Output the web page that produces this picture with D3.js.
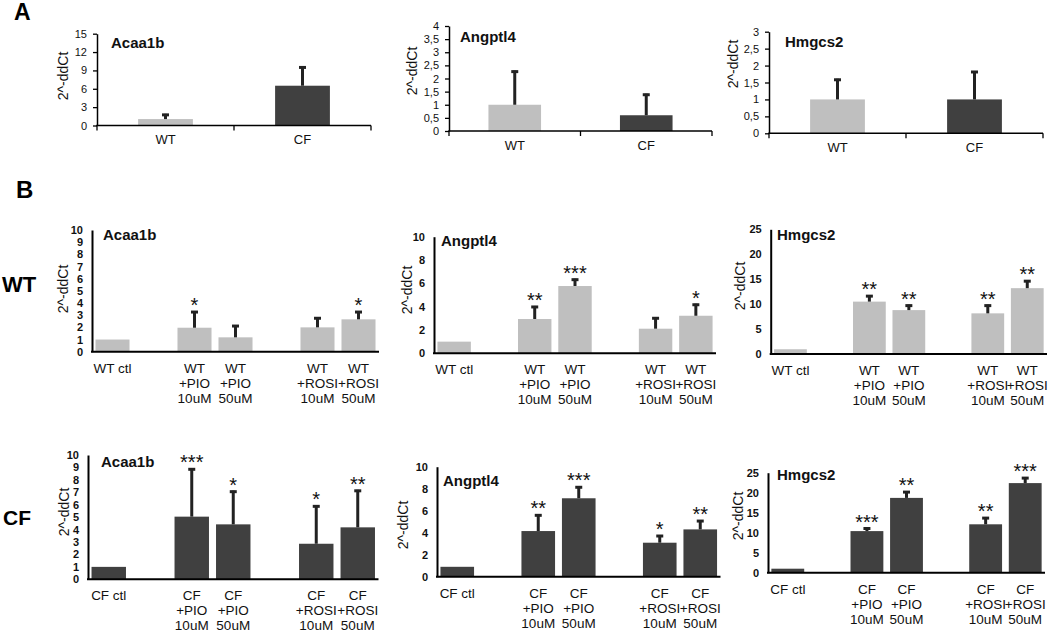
<!DOCTYPE html>
<html>
<head>
<meta charset="utf-8">
<style>
  body { margin: 0; background: #fff; }
  svg { display: block; font-family: "Liberation Sans", Arial, sans-serif; }
</style>
</head>
<body>
<svg id="fig" width="1050" height="632"></svg>
<script src="https://d3js.org/d3.v7.min.js"></script>
<script>
// ---- data : panel A (WT vs CF) ----
var groupsA = ["WT", "CF"];
var acaa1bA = [1.05, 6.5];
var acaa1bA_sd = [0.85, 3.15];
var angptl4A = [1.0, 0.6];
var angptl4A_sd = [1.3, 0.82];
var hmgcs2A = [1.0, 1.0];
var hmgcs2A_sd = [0.61, 0.84];

// ---- data : panel B (treatments) ----
var slotsB = ["ctl", "gap1", "PIO10", "PIO50", "gap2", "ROSI10", "ROSI50"];
var treatB = ["ctl", "PIO10", "PIO50", "ROSI10", "ROSI50"];
var wtLabels = [["WT ctl"], ["WT", "+PIO", "10uM"], ["WT", "+PIO", "50uM"], ["WT", "+ROSI", "10uM"], ["WT", "+ROSI", "50uM"]];
var cfLabels = [["CF ctl"], ["CF", "+PIO", "10uM"], ["CF", "+PIO", "50uM"], ["CF", "+ROSI", "10uM"], ["CF", "+ROSI", "50uM"]];

var wtAcaa1b = [1.0, 1.97, 1.18, 2.0, 2.66];
var wtAcaa1b_sd = [0, 1.37, 1.01, 0.83, 0.68];
var wtAcaa1b_sig = ["", "*", "", "", "*"];
var wtAngptl4 = [1.0, 2.94, 5.77, 2.11, 3.22];
var wtAngptl4_sd = [0, 1.12, 0.63, 0.98, 1.03];
var wtAngptl4_sig = ["", "**", "***", "", "*"];
var wtHmgcs2 = [0.95, 10.5, 8.8, 8.15, 13.2];
var wtHmgcs2_sd = [0, 1.3, 1.1, 1.75, 1.6];
var wtHmgcs2_sig = ["", "**", "**", "**", "**"];

var cfAcaa1b = [1.0, 5.04, 4.42, 2.86, 4.18];
var cfAcaa1b_sd = [0, 3.89, 2.71, 3.09, 3.02];
var cfAcaa1b_sig = ["", "***", "*", "*", "**"];
var cfAngptl4 = [0.9, 4.15, 7.13, 3.09, 4.3];
var cfAngptl4_sd = [0, 1.52, 1.09, 0.7, 0.85];
var cfAngptl4_sig = ["", "**", "***", "*", "**"];
var cfHmgcs2 = [1.0, 10.4, 18.7, 12.1, 22.4];
var cfHmgcs2_sd = [0, 0.9, 1.7, 1.8, 1.5];
var cfHmgcs2_sig = ["", "***", "**", "**", "***"];

var LIGHT = "#bfbfbf", DARK = "#404040", ERR = "#222";

var svg = d3.select("#fig");

function commaFmt(d) { return String(d).replace(".", ","); }

function drawPanel(p) {
  var g = svg.append("g");
  var y = d3.scaleLinear().domain([0, p.max]).range([p.yBot, p.yTop]);
  var x = d3.scaleBand().domain(p.slots).range([p.x0, p.x1])
    .paddingInner(p.pad).paddingOuter(p.pad / 2);

  var rows = p.keys.map(function (k, i) {
    return { key: k, v: p.vals[i], sd: p.sd[i], sig: p.sig ? p.sig[i] : "",
             lab: p.labels[i], col: p.colors ? p.colors[i] : p.color };
  });

  // bars
  g.selectAll("rect.bar").data(rows).enter().append("rect")
    .attr("class", "bar")
    .attr("x", function (d) { return x(d.key); })
    .attr("width", x.bandwidth())
    .attr("y", function (d) { return y(d.v); })
    .attr("height", function (d) { return y(0) - y(d.v); })
    .attr("fill", function (d) { return d.col; });

  // error bars (upper only)
  var eb = rows.filter(function (d) { return d.sd > 0; });
  g.selectAll("line.err").data(eb).enter().append("line")
    .attr("x1", function (d) { return x(d.key) + x.bandwidth() / 2; })
    .attr("x2", function (d) { return x(d.key) + x.bandwidth() / 2; })
    .attr("y1", function (d) { return y(d.v); })
    .attr("y2", function (d) { return y(d.v + d.sd); })
    .attr("stroke", ERR).attr("stroke-width", 3);
  g.selectAll("line.cap").data(eb).enter().append("line")
    .attr("x1", function (d) { return x(d.key) + x.bandwidth() / 2 - 3.5; })
    .attr("x2", function (d) { return x(d.key) + x.bandwidth() / 2 + 3.5; })
    .attr("y1", function (d) { return y(d.v + d.sd) + 1; })
    .attr("y2", function (d) { return y(d.v + d.sd) + 1; })
    .attr("stroke", ERR).attr("stroke-width", 3);

  // significance stars
  g.selectAll("text.sig").data(rows.filter(function (d) { return d.sig; })).enter().append("text")
    .attr("x", function (d) { return x(d.key) + x.bandwidth() / 2; })
    .attr("y", function (d) { return y(d.v + d.sd) + 1; })
    .attr("text-anchor", "middle")
    .style("font-size", "20px")
    .attr("fill", "#111")
    .text(function (d) { return d.sig; });

  // y axis
  var ya = g.append("g")
    .attr("transform", "translate(" + p.x0 + ",0)")
    .call(d3.axisLeft(y)
      .tickValues(d3.range(0, p.max + p.step / 2, p.step))
      .tickSize(p.tick).tickSizeOuter(0)
      .tickPadding(p.tick ? 6 : 9)
      .tickFormat(commaFmt));
  ya.select(".domain").attr("stroke", "#000").attr("stroke-width", p.lw);
  ya.selectAll(".tick line").attr("stroke", "#000").attr("stroke-width", 1.3);
  ya.selectAll(".tick text")
    .style("font-size", "11px")
    .style("font-weight", p.tick ? "normal" : "bold")
    .attr("fill", "#111");

  // x axis line
  g.append("line")
    .attr("x1", p.x0 - p.lw / 2).attr("x2", p.x1)
    .attr("y1", p.yBot).attr("y2", p.yBot)
    .attr("stroke", "#000").attr("stroke-width", p.lw);
  if (p.tick) {
    var bounds = d3.range(0, p.slots.length + 1).map(function (i) { return p.x0 + i * x.step(); });
    g.selectAll("line.xt").data(bounds).enter().append("line")
      .attr("x1", function (d) { return d; }).attr("x2", function (d) { return d; })
      .attr("y1", p.yBot).attr("y2", p.yBot + 5)
      .attr("stroke", "#000").attr("stroke-width", 1.3);
  }

  // category labels
  var lt = g.selectAll("text.cat").data(rows).enter().append("text")
    .attr("text-anchor", "middle")
    .attr("y", p.yBot + p.labDy)
    .style("font-size", p.labSize + "px")
    .attr("fill", "#111");
  lt.each(function (d) {
    var t = d3.select(this);
    d.lab.forEach(function (s, i) {
      t.append("tspan")
        .attr("x", x(d.key) + x.bandwidth() / 2)
        .attr("dy", i === 0 ? 0 : 15)
        .text(s);
    });
  });

  // gene title
  g.append("text")
    .attr("x", p.tx).attr("y", p.ty)
    .style("font-size", "15px").style("font-weight", "bold")
    .attr("fill", "#111")
    .text(p.title);

  // y label
  g.append("text")
    .attr("transform", "translate(" + p.lx + "," + p.ly + ") rotate(-90)")
    .attr("text-anchor", "middle")
    .attr("dy", "0.35em")
    .style("font-size", "14px")
    .attr("fill", "#111")
    .text("2^-ddCt");
}

// ---- panel A ----
var labsA = groupsA.map(function (d) { return [d]; });
var aBase = { slots: groupsA, keys: groupsA, labels: labsA, colors: [LIGHT, DARK],
              pad: 0.6, tick: 4, lw: 1.5, labDy: 18.5, labSize: 13 };
drawPanel(Object.assign({}, aBase, { vals: acaa1bA, sd: acaa1bA_sd, title: "Acaa1b",
  x0: 97, x1: 371, yTop: 33.7, yBot: 125.5, max: 15, step: 3, tx: 111, ty: 48, lx: 63, ly: 76 }));
drawPanel(Object.assign({}, aBase, { vals: angptl4A, sd: angptl4A_sd, title: "Angptl4",
  x0: 449, x1: 712, yTop: 26, yBot: 131, max: 4, step: 0.5, tx: 460, ty: 42, lx: 412, ly: 71 }));
drawPanel(Object.assign({}, aBase, { vals: hmgcs2A, sd: hmgcs2A_sd, title: "Hmgcs2",
  x0: 769, x1: 1043, yTop: 31.7, yBot: 133.3, max: 3, step: 0.5, tx: 785, ty: 47, lx: 733, ly: 64 }));

// ---- panel B ----
var bBase = { slots: slotsB, keys: treatB, pad: 0.17, tick: 0, lw: 2, labDy: 21, labSize: 13.5 };
var wtB = Object.assign({}, bBase, { labels: wtLabels, color: LIGHT });
var cfB = Object.assign({}, bBase, { labels: cfLabels, color: DARK });

drawPanel(Object.assign({}, wtB, { vals: wtAcaa1b, sd: wtAcaa1b_sd, sig: wtAcaa1b_sig, title: "Acaa1b",
  x0: 92, x1: 379, yTop: 230, yBot: 351.7, max: 10, step: 1, tx: 103, ty: 240, lx: 63, ly: 289 }));
drawPanel(Object.assign({}, wtB, { vals: wtAngptl4, sd: wtAngptl4_sd, sig: wtAngptl4_sig, title: "Angptl4",
  x0: 434, x1: 716, yTop: 236.7, yBot: 353.3, max: 10, step: 2, tx: 441, ty: 246, lx: 407, ly: 290 }));
drawPanel(Object.assign({}, wtB, { vals: wtHmgcs2, sd: wtHmgcs2_sd, sig: wtHmgcs2_sig, title: "Hmgcs2",
  x0: 770.7, x1: 1047, yTop: 229.3, yBot: 354, max: 25, step: 5, tx: 777, ty: 240, lx: 740, ly: 286 }));

drawPanel(Object.assign({}, cfB, { vals: cfAcaa1b, sd: cfAcaa1b_sd, sig: cfAcaa1b_sig, title: "Acaa1b",
  x0: 88, x1: 378.5, yTop: 455, yBot: 579.3, max: 10, step: 1, tx: 101, ty: 467, lx: 64, ly: 512 }));
drawPanel(Object.assign({}, cfB, { vals: cfAngptl4, sd: cfAngptl4_sd, sig: cfAngptl4_sig, title: "Angptl4",
  x0: 437, x1: 720.5, yTop: 466.7, yBot: 576.7, max: 10, step: 2, tx: 443, ty: 486, lx: 403, ly: 525 }));
drawPanel(Object.assign({}, cfB, { vals: cfHmgcs2, sd: cfHmgcs2_sd, sig: cfHmgcs2_sig, title: "Hmgcs2",
  x0: 768, x1: 1045, yTop: 472.7, yBot: 572.7, max: 25, step: 5, tx: 777, ty: 480, lx: 738, ly: 516 }));

// ---- panel letters and row labels ----
svg.append("text").attr("x", 14).attr("y", 20)
  .style("font-size", "23px").style("font-weight", "bold").text("A");
svg.append("text").attr("x", 16).attr("y", 198)
  .style("font-size", "24px").style("font-weight", "bold").text("B");
svg.append("text").attr("x", 2).attr("y", 292)
  .style("font-size", "22px").style("font-weight", "bold").text("WT");
svg.append("text").attr("x", 3).attr("y", 525)
  .style("font-size", "21px").style("font-weight", "bold").text("CF");
</script>
</body>
</html>
